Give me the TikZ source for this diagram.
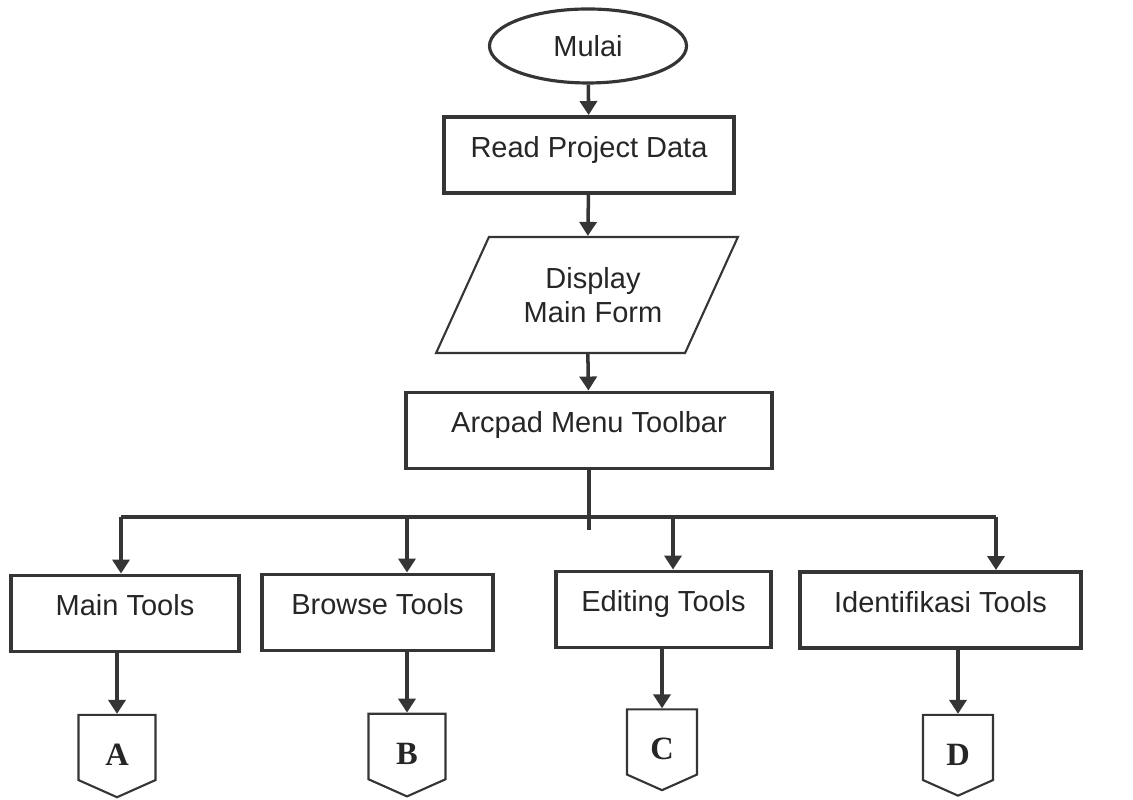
\documentclass[tikz,border=0pt]{standalone}
\usepackage{fontspec}
\setmainfont{Liberation Sans}
\newfontfamily\hurufserif{Liberation Serif}
\usetikzlibrary{shapes.geometric,shapes.symbols,arrows.meta}
\definecolor{garis}{HTML}{353535}
\definecolor{tinta}{HTML}{262626}

\begin{document}
\begin{tikzpicture}[
	kotak/.style={draw=garis, line width=2.2pt, rectangle, minimum height=1.52cm,
		text height=0.45cm, text depth=0.35cm, text=tinta, font=\fontsize{16.5}{19.5}\selectfont},
	panah/.style={draw=garis, line width=2pt, -{Triangle[length=2.8mm,width=3.4mm]}},
	konektor/.style={draw=garis, line width=1.2pt, signal, signal to=south, signal pointer angle=132,
		minimum height=1.46cm, text height=0.75cm, text depth=0.04cm, text=tinta,
		font=\hurufserif\bfseries\fontsize{18.5}{20}\selectfont}
	]
	\def\bus{5.66}
	\useasboundingbox (0,0) rectangle (22.66,16);
	
	\node[ellipse, draw=garis, line width=1.8pt, minimum width=3.94cm, minimum height=1.48cm,
		text=tinta, font=\fontsize{16.5}{19.5}\selectfont] (mulai) at (11.76,15.08) {Mulai}; % Terminal
	\node[kotak, minimum width=5.8cm] (read) at (11.78,12.90) {Read Project Data};
	\node[trapezium, trapezium left angle=57, trapezium right angle=123, trapezium stretches=true,
		draw=garis, line width=1.2pt, minimum width=6.04cm, minimum height=2.32cm, align=center,
		text=tinta, font=\fontsize{16.5}{19.5}\selectfont] (display) at (11.74,10.10) {\hspace{0.24cm}Display\\\hspace{0.24cm}Main Form}; % Input/output
	\node[kotak, minimum width=7.32cm] (arcpad) at (11.78,7.39) {Arcpad Menu Toolbar};
	
	% Menu
	\node[kotak, minimum width=4.56cm] (main) at (2.50,3.73) {Main Tools};
	\node[kotak, minimum width=4.62cm] (browse) at (7.55,3.75) {Browse Tools};
	\node[kotak, minimum width=4.30cm] (editing) at (13.27,3.81) {Editing Tools};
	\node[kotak, minimum width=5.62cm] (ident) at (18.81,3.80) {Identifikasi Tools};
	
	% Konektor halaman
	\node[konektor, minimum width=1.54cm] (konA) at (2.34,1.05) {A};
	\node[konektor, minimum width=1.54cm] (konB) at (8.14,1.07) {B};
	\node[konektor, minimum width=1.40cm] (konC) at (13.24,1.16) {C};
	\node[konektor, minimum width=1.40cm] (konD) at (19.16,1.05) {D};
	
	% Alur utama
	\draw[panah] (mulai) -- (read);
	\draw[panah] (read) -- (display);
	\draw[panah] (display) -- (arcpad);
	
	% Percabangan
	\coordinate (cabA) at (2.42,\bus);
	\coordinate (cabB) at (8.14,\bus);
	\coordinate (cabC) at (13.46,\bus);
	\coordinate (cabD) at (19.92,\bus);
	\draw[garis, line width=2pt] (arcpad.south) -- ++(0,-1.2);
	\draw[garis, line width=2pt] (cabA) -- (cabD);
	\draw[panah] (cabA) -- (cabA |- main.north);
	\draw[panah] (cabB) -- (cabB |- browse.north);
	\draw[panah] (cabC) -- (cabC |- editing.north);
	\draw[panah] (cabD) -- (cabD |- ident.north);
	
	\draw[panah] (konA.north |- main.south) -- (konA.north);
	\draw[panah] (konB.north |- browse.south) -- (konB.north);
	\draw[panah] (konC.north |- editing.south) -- (konC.north);
	\draw[panah] (konD.north |- ident.south) -- (konD.north);
\end{tikzpicture}
\end{document}
